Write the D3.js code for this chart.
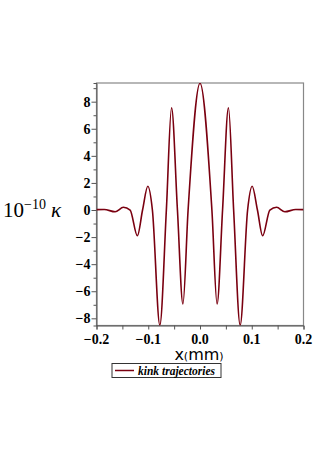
<!DOCTYPE html>
<html>
<head>
<meta charset="utf-8">
<script src="https://cdn.jsdelivr.net/npm/d3@7"></script>
<style>
  body { margin: 0; background: #fff; }
  svg { display: block; }
</style>
</head>
<body>
<svg class="chart"></svg>
<script>
// curve (extrema + zero crossings)
let xVals = [-0.2, -0.185, -0.164, -0.148, -0.135, -0.121, -0.111, -0.1008, -0.092, -0.0776, -0.065, -0.055, -0.0436, -0.033, -0.023, 0,
             0.023, 0.033, 0.0436, 0.055, 0.065, 0.0776, 0.092, 0.1008, 0.111, 0.121, 0.135, 0.148, 0.164, 0.185, 0.2];
let kVals = [0.03, 0.04, -0.13, 0.2, 0, -1.9, 0, 1.75, 0, -8.5, 0, 7.55, 0, -6.94, 0, 9.36,
             0, -6.94, 0, 7.55, 0, -8.5, 0, 1.75, 0, -1.9, 0, 0.2, -0.13, 0.04, 0.03];
let xTicks = [-0.2, -0.1, 0, 0.1, 0.2];
let yTicks = [-8, -6, -4, -2, 0, 2, 4, 6, 8];
let seriesName = "kink trajectories";
let lineColor = "#7a0010";

let w = 327, h = 463;
let pL = 96.5, pR = 303.5, pT = 83, pB = 325.5;

var svg = d3.select(".chart").attr("width", w).attr("height", h);

var xS = d3.scaleLinear().domain([-0.2, 0.2]).range([pL, pR]);
var yS = d3.scaleLinear().domain([-8.53, 9.38]).range([pB, pT]);

svg.append("clipPath").attr("id", "clip")
   .append("rect").attr("x", pL).attr("y", pT)
   .attr("width", pR - pL).attr("height", pB - pT);

// frame
svg.append("rect")
   .attr("x", pL).attr("y", pT)
   .attr("width", pR - pL).attr("height", pB - pT)
   .attr("fill", "none").attr("stroke", "#888").attr("stroke-width", 1.2);

let fmtMinus = d => (d < 0 ? "\u2212" : "") + Math.abs(d);

// y axis
var yAxis = svg.append("g")
   .attr("transform", "translate(" + pL + ",0)")
   .call(d3.axisLeft(yS).tickValues(d3.range(-8, 10, 1)).tickSize(3).tickFormat(""));
yAxis.selectAll("line").attr("stroke", "#555");
yAxis.select(".domain").attr("stroke", "#555");
yAxis.selectAll(".tick").filter(d => d % 2 === 0).select("line").attr("x2", -5);
svg.append("g").selectAll("text")
   .data(yTicks).enter().append("text")
   .attr("x", pL - 6)
   .attr("y", d => yS(d) + 5)
   .attr("text-anchor", "end")
   .style("font", "bold 14px 'Liberation Serif', serif")
   .text(fmtMinus);

// x axis
var xAxis = svg.append("g")
   .attr("transform", "translate(0," + pB + ")")
   .call(d3.axisBottom(xS).tickValues(d3.range(-0.2, 0.201, 0.05)).tickSize(4).tickFormat(""));
xAxis.selectAll("line").attr("stroke", "#555");
xAxis.select(".domain").attr("stroke", "#555");
svg.append("g").selectAll("text")
   .data(xTicks).enter().append("text")
   .attr("x", d => xS(d))
   .attr("y", pB + 18)
   .attr("text-anchor", "middle")
   .style("font", "bold 14px 'Liberation Serif', serif")
   .text(d => (d < 0 ? "\u2212" : "") + Math.abs(d).toFixed(1));

// axis titles
var xt = svg.append("text")
   .attr("x", 199).attr("y", 360)
   .attr("text-anchor", "middle")
   .style("font-family", "'DejaVu Sans', sans-serif");
xt.append("tspan").style("font-size", "16px").text("x");
xt.append("tspan").style("font-size", "11px").text("(");
xt.append("tspan").style("font-size", "16px").text("mm");
xt.append("tspan").style("font-size", "11px").text(")");

var yt = svg.append("text")
   .attr("x", 3).attr("y", 217)
   .style("font-family", "'Liberation Serif', serif");
yt.append("tspan").style("font-size", "21px").text("10");
yt.append("tspan").style("font-size", "14px").attr("dy", -8).text("\u221210");
yt.append("tspan").style("font-size", "21px").style("font-style", "italic").attr("dy", 8).attr("dx", 5).text("\u03ba");

// the curve
var line = d3.line()
   .x((d, i) => xS(xVals[i]))
   .y(d => yS(d))
   .curve(d3.curveMonotoneX);

svg.append("path")
   .datum(kVals)
   .attr("clip-path", "url(#clip)")
   .attr("fill", "none")
   .attr("stroke", lineColor)
   .attr("stroke-width", 1.6)
   .attr("d", line);

// legend
var lg = svg.append("g");
lg.append("rect").attr("x", 112).attr("y", 363.5).attr("width", 109).attr("height", 14)
  .attr("fill", "#fff").attr("stroke", "#333").attr("stroke-width", 1);
lg.append("line").attr("x1", 115).attr("x2", 134).attr("y1", 370.5).attr("y2", 370.5)
  .attr("stroke", lineColor).attr("stroke-width", 1.5);
lg.append("text").attr("x", 138).attr("y", 374.5)
  .style("font", "italic bold 11.5px 'Liberation Serif', serif")
  .text(seriesName);
</script>
</body>
</html>
